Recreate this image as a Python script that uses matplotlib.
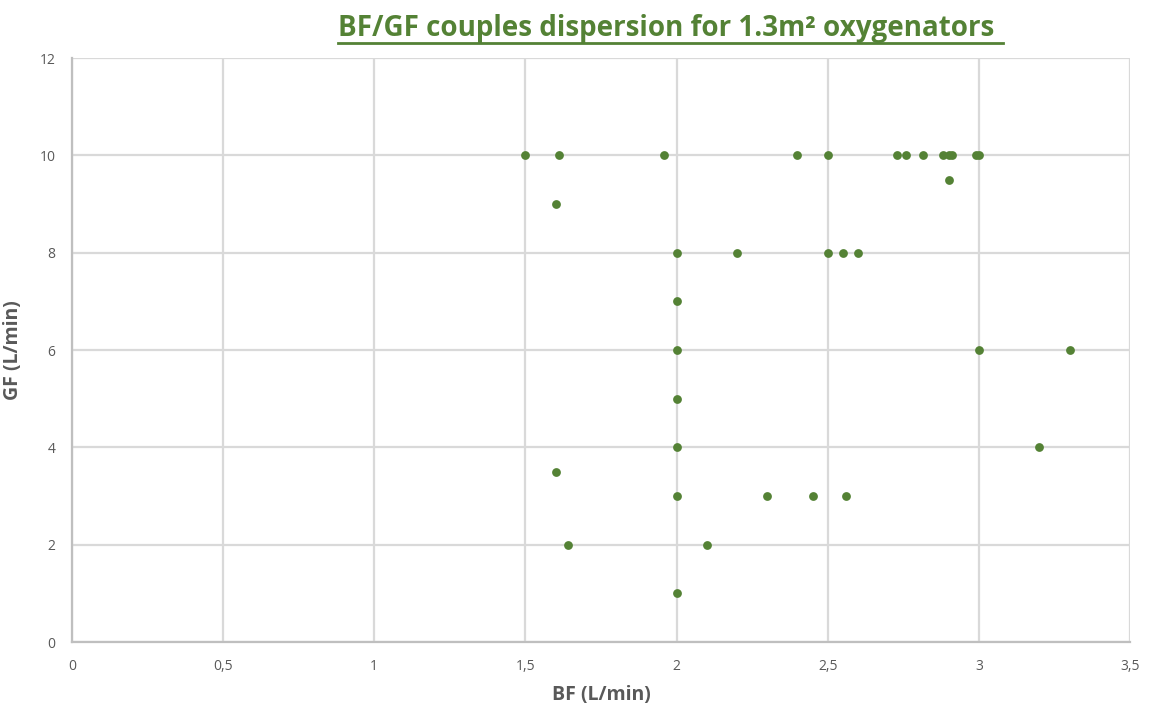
import matplotlib
matplotlib.use("Agg")
import matplotlib.pyplot as plt
from matplotlib.ticker import FuncFormatter, MultipleLocator
from matplotlib.lines import Line2D

# BF / GF couples
bf = [1.5, 1.61, 1.96, 2.40, 2.50, 2.73, 2.76, 2.815, 2.88, 2.90, 2.91, 2.99, 3.0,
      2.90, 1.60,
      2.0, 2.2, 2.5, 2.55, 2.60,
      2.0, 2.0, 3.0, 3.3, 2.0, 2.0, 3.2,
      1.60, 2.0, 2.3, 2.45, 2.56,
      1.64, 2.10, 2.0]
gf = [10, 10, 10, 10, 10, 10, 10, 10, 10, 10, 10, 10, 10,
      9.5, 9,
      8, 8, 8, 8, 8,
      7, 6, 6, 6, 5, 4, 4,
      3.5, 3, 3, 3, 3,
      2, 2, 1]

title = "BF/GF couples dispersion for 1.3m² oxygenators"
green = "#548235"
grey = "#595959"
font = ["Open Sans", "DejaVu Sans"]

fig = plt.figure(figsize=(11.5, 7.04), dpi=100)
ax = fig.add_axes([0.0626, 0.088, 0.92, 0.8294])

ax.scatter(bf, gf, s=40, color=green, zorder=3, linewidths=0)

ax.set_xlim(0, 3.5)
ax.set_ylim(0, 12)
ax.xaxis.set_major_locator(MultipleLocator(0.5))
ax.yaxis.set_major_locator(MultipleLocator(2))
ax.xaxis.set_major_formatter(FuncFormatter(lambda v, p: f"{v:g}".replace(".", ",")))
ax.grid(True, color="#d9d9d9", linewidth=1.6, zorder=0)
ax.set_axisbelow(True)
for s in ["top", "right"]:
    ax.spines[s].set_visible(False)
for s in ["left", "bottom"]:
    ax.spines[s].set_color("#bfbfbf")
    ax.spines[s].set_linewidth(1.6)
ax.tick_params(length=0, pad=12, labelsize=10, labelcolor=grey)
for lab in ax.get_xticklabels() + ax.get_yticklabels():
    lab.set_family(font)

ax.set_xlabel("BF (L/min)", fontsize=14, fontweight="bold", color=grey, family=font, labelpad=8)
ax.set_ylabel("GF (L/min)", fontsize=14, fontweight="bold", color=grey, family=font, labelpad=12)

t = fig.text(0.579, 0.96, title, fontsize=20, fontweight="bold", color=green,
             family=font, ha="center", va="center")

# underline the title
fig.canvas.draw()
bb = t.get_window_extent().transformed(fig.transFigure.inverted())
y_line = bb.y0 - 0.001
fig.add_artist(Line2D([bb.x0, bb.x1 + 0.008], [y_line, y_line], color=green, linewidth=2,
                      transform=fig.transFigure))

fig.savefig("out.png", dpi=100)
